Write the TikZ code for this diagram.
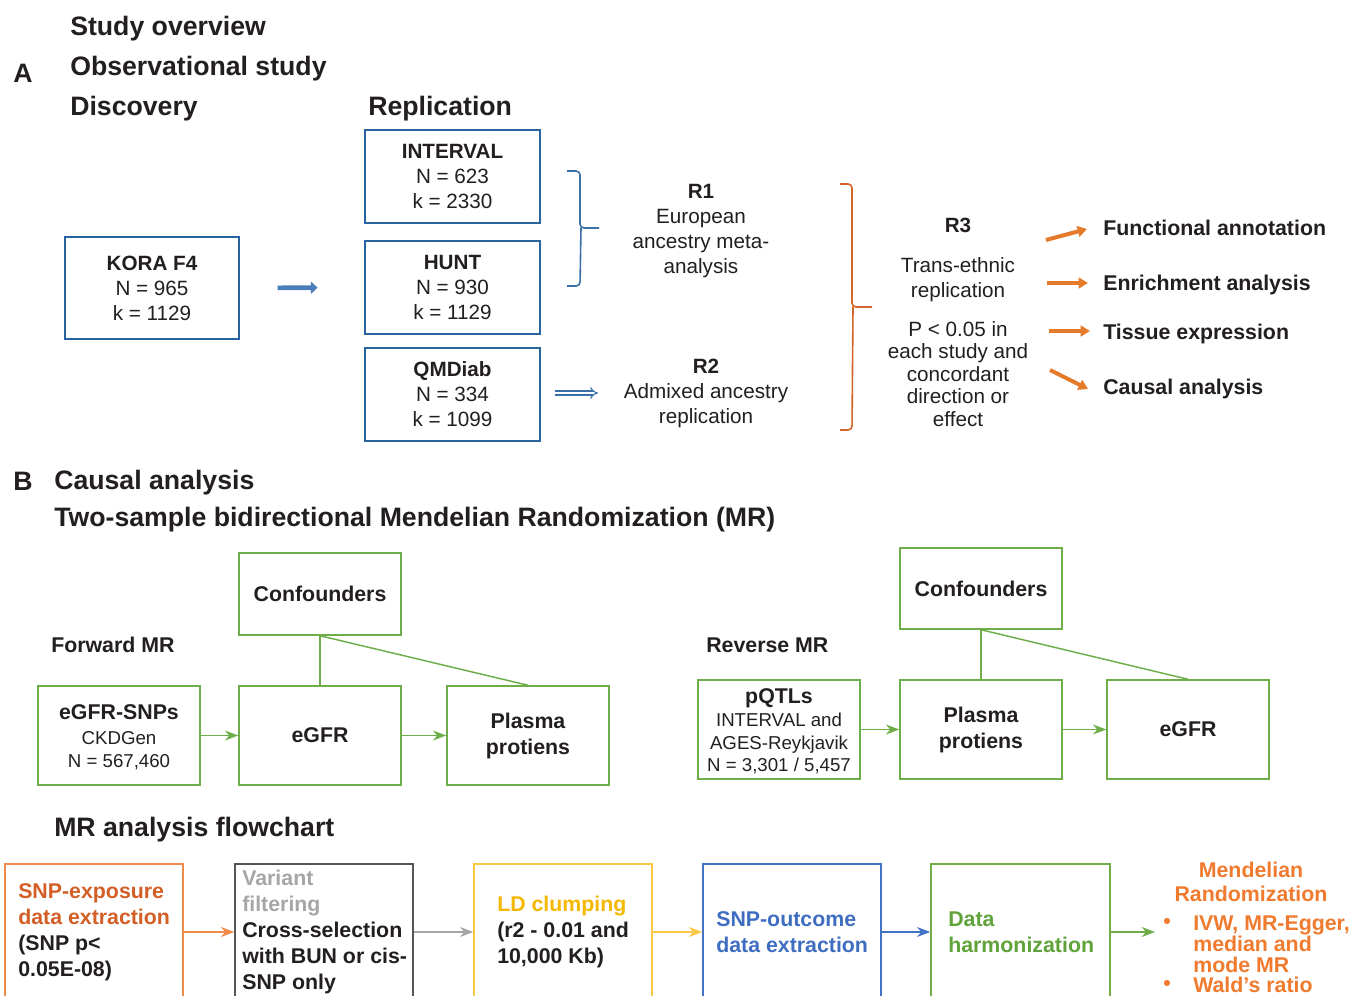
\documentclass[tikz,border=0pt]{standalone}
\usepackage{fontspec}
\setmainfont{Liberation Sans}
\usetikzlibrary{arrows.meta}
\definecolor{txt}{HTML}{231F20}
\definecolor{bblue}{HTML}{2A64A0}
\definecolor{brblue}{HTML}{3B6FA8}
\definecolor{barfill}{HTML}{4A7EBB}
\definecolor{gr}{HTML}{6DAE48}
\definecolor{orbr}{HTML}{D2662A}
\definecolor{orar}{HTML}{E67A2B}
\definecolor{c1}{HTML}{F08A4B}
\definecolor{c1t}{HTML}{D35F27}
\definecolor{c2}{HTML}{555555}
\definecolor{c2t}{HTML}{A6A6A6}
\definecolor{c3}{HTML}{F9C846}
\definecolor{c3t}{HTML}{F5B800}
\definecolor{c4}{HTML}{4472C4}
\definecolor{c4t}{HTML}{3F6EC0}
\definecolor{c5}{HTML}{70AD47}
\definecolor{c5t}{HTML}{5FA33A}
\definecolor{mr}{HTML}{F07B2E}
\newcommand\fsz[2]{\fontsize{#1}{#2}\selectfont}
\tikzset{
  title/.style={anchor=west, font=\bfseries\fsz{20}{24}, inner sep=0, text=txt},
  bbox/.style={draw=bblue, line width=1.1pt, align=center, inner sep=0, minimum width=131.25pt, minimum height=69.75pt, font=\fsz{15.5}{18.75}, text=txt},
  rtext/.style={align=center, font=\fsz{15.5}{18.75}, inner sep=0, text=txt},
  olab/.style={anchor=west, font=\bfseries\fsz{16}{19}, inner sep=0, text=txt},
  gbox/.style={draw=gr, line width=1.1pt, align=center, inner sep=0, minimum width=121.5pt, minimum height=74.25pt, font=\bfseries\fsz{16}{19.5}, text=txt},
  gtext/.style={align=center, inner sep=0, font=\fsz{14}{16.9}, text=txt},
  garrow/.style={draw=gr, line width=1.1pt, -{Stealth[length=10pt,width=7.5pt]}},
  gline/.style={draw=gr, line width=1.1pt},
  fbox/.style={line width=1.1pt, minimum width=133.5pt, minimum height=102pt, inner sep=0},
  ftext/.style={anchor=west, align=left, inner sep=0, font=\bfseries\fsz{16}{19.5}, text=txt},
  farrow/.style={line width=1.1pt, -{Stealth[length=10pt,width=7.5pt]}},
  oarrow/.style={draw=orar, line width=3pt, -{Triangle[length=7pt,width=8pt]}},
}
\begin{document}
\begin{tikzpicture}[x=0.75pt,y=-0.75pt]
\useasboundingbox (0,0) rectangle (1351,995);
\clip (0,0) rectangle (1351,995);
\fill[white] (0,0) rectangle (1351,995);

% ---------- Part A ----------
\node[title] (t1) at (70,29) {Study overview};
\node[title] (tA) at (13,73) {A};
\node[title] (t2) at (70,69) {Observational study};
\node[title] (t3) at (70,109) {Discovery};
\node[title] (t4) at (368,109) {Replication};

\node[bbox, minimum width=130.5pt, minimum height=76.5pt] (kora) at (152,288) {{\bfseries KORA F4}\\N = 965\\k = 1129};
\node[bbox] (interval) at (452.5,176.5) {{\bfseries INTERVAL}\\N = 623\\k = 2330};
\node[bbox] (hunt) at (452.5,287.5) {{\bfseries HUNT}\\N = 930\\k = 1129};
\node[bbox] (qmdiab) at (452.5,394.5) {{\bfseries QMDiab}\\N = 334\\k = 1099};

\draw[draw=barfill, line width=3.5pt, -{Triangle[length=5pt,width=9pt]}, shorten <=28.5pt, shorten >=35pt] (kora.east) -- (hunt.west);
\coordinate (r2in) at (598,393);
\draw[draw=brblue, double=white, double distance=2.2pt, line width=0.8pt, -{Implies}, shorten <=11pt] (qmdiab.east |- r2in) -- (r2in);

% blue brace
\draw[brblue, line width=1.2pt, rounded corners=3pt] (567,171) -- (580,171) -- (580,228) -- (599,228);
\draw[brblue, line width=1.2pt, rounded corners=3pt] (581,228) -- (580,286) -- (567,286);

\node[rtext] (r1) at (701,231.5) {{\bfseries R1}\\European\\ancestry meta-\\analysis};
\node[rtext] (r2) at (706,393) {{\bfseries R2}\\Admixed ancestry\\replication};

% orange brace
\draw[orbr, line width=1.2pt, rounded corners=3pt] (840,184) -- (852,184) -- (852,307) -- (872,307);
\draw[orbr, line width=1.2pt, rounded corners=3pt] (853,307) -- (852,430) -- (840,430);

\node[rtext] (r3) at (958,225) {\bfseries R3};
\node[rtext] (r3a) at (958,279.5) {Trans-ethnic\\replication};
\node[rtext, font=\fsz{15.5}{16.9}] (r3b) at (958,374) {P < 0.05 in\\each study and\\concordant\\direction or\\effect};

\node[olab] (fa) at (1103,228) {Functional annotation};
\node[olab] (ea) at (1103,285) {Enrichment analysis};
\node[olab] (te) at (1103,334) {Tissue expression};
\node[olab] (ca) at (1103,389) {Causal analysis};
\coordinate (s1) at (1046,240); \coordinate (e1) at (1087,229);
\coordinate (s2) at (1047,283); \coordinate (e2) at (1088,283);
\coordinate (s3) at (1049,331); \coordinate (e3) at (1090,331);
\coordinate (s4) at (1050,370); \coordinate (e4) at (1088,389);
\draw[oarrow] (s1) -- (e1);
\draw[oarrow] (s2) -- (e2);
\draw[oarrow] (s3) -- (e3);
\draw[oarrow] (s4) -- (e4);

% ---------- Part B ----------
\node[title] (tB) at (13,481) {B};
\node[title] (t5) at (54,483) {Causal analysis};
\node[title] (t6) at (54,520) {Two-sample bidirectional Mendelian Randomization (MR)};

\node[olab] (fwd) at (51,645) {Forward MR};
\node[gbox, minimum height=61.5pt] (conf1) at (320,594) {Confounders};
\node[gbox] (snps) at (119,735.5) {};
\node[gtext] (snpst) at (119,737) {{\bfseries\fsz{16}{16.9}eGFR-SNPs}\\[2.5pt]CKDGen\\N = 567,460};
\node[gbox] (egfr1) at (320,735.5) {eGFR};
\node[gbox] (plasma1) at (528,735.5) {Plasma\\protiens};
\draw[gline] (conf1.south) -- (egfr1.north);
\draw[gline] (conf1.south) -- (plasma1.north);
\draw[garrow] (snps) -- (egfr1);
\draw[garrow] (egfr1) -- (plasma1);

\node[olab] (rev) at (706,645) {Reverse MR};
\node[gbox, minimum height=60.75pt] (conf2) at (981,588.5) {Confounders};
\node[gbox] (pqtl) at (779,729.5) {};
\node[gtext] (pqtlt) at (779,731.5) {{\bfseries\fsz{16}{16.9}pQTLs}\\INTERVAL and\\AGES-Reykjavik\\N = 3,301 / 5,457};
\node[gbox] (plasma2) at (981,729.5) {Plasma\\protiens};
\node[gbox] (egfr2) at (1188,729.5) {eGFR};
\draw[gline] (conf2.south) -- (plasma2.north);
\draw[gline] (conf2.south) -- (egfr2.north);
\draw[garrow] (pqtl) -- (plasma2);
\draw[garrow] (plasma2) -- (egfr2);

% ---------- MR flowchart ----------
\node[title] (t7) at (54,830) {MR analysis flowchart};

\node[fbox, draw=c1] (f1) at (94,932) {};
\node[fbox, draw=c2] (f2) at (324,932) {};
\node[fbox, draw=c3] (f3) at (563,932) {};
\node[fbox, draw=c4] (f4) at (792,932) {};
\node[fbox, draw=c5, minimum width=134.25pt] (f5) at (1020.5,932) {};

\node[ftext] (f1t) at (18,932) {\textcolor{c1t}{SNP-exposure}\\\textcolor{c1t}{data extraction}\\(SNP p<\\0.05E-08)};
\node[ftext] (f2t) at (242,932) {\textcolor{c2t}{Variant}\\\textcolor{c2t}{filtering}\\Cross-selection\\with BUN or cis-\\SNP only};
\node[ftext] (f3t) at (497,932) {\textcolor{c3t}{LD clumping}\\(r2 - 0.01 and\\10,000 Kb)};
\node[ftext, text=c4t] (f4t) at (716,932) {SNP-outcome\\data extraction};
\node[ftext, text=c5t] (f5t) at (948,932) {Data\\harmonization};

\coordinate (fend) at (1155,932);
\draw[farrow, c1] (f1) -- (f2);
\draw[farrow, c2t] (f2) -- (f3);
\draw[farrow, c3] (f3) -- (f4);
\draw[farrow, c4] (f4) -- (f5);
\draw[farrow, c5] (f5.east) -- (fend);

\node[inner sep=0, align=center, text=mr, font=\bfseries\fsz{16}{18}] (mrt) at (1251,882) {Mendelian\\Randomization};
\node[inner sep=0, text=mr, font=\bfseries\fsz{16}{18}] (b1) at (1167,923) {•};
\node[inner sep=0, text=mr, font=\bfseries\fsz{16}{18}] (b2) at (1167,985) {•};
\node[inner sep=0, anchor=west, align=left, text=mr, font=\bfseries\fsz{16}{15.75}] (mrl) at (1193,944) {IVW, MR-Egger,\\median and\\mode MR};
\node[inner sep=0, anchor=west, text=mr, font=\bfseries\fsz{16}{15.75}] (wald) at (1193,985) {Wald’s ratio};
\end{tikzpicture}
\end{document}
